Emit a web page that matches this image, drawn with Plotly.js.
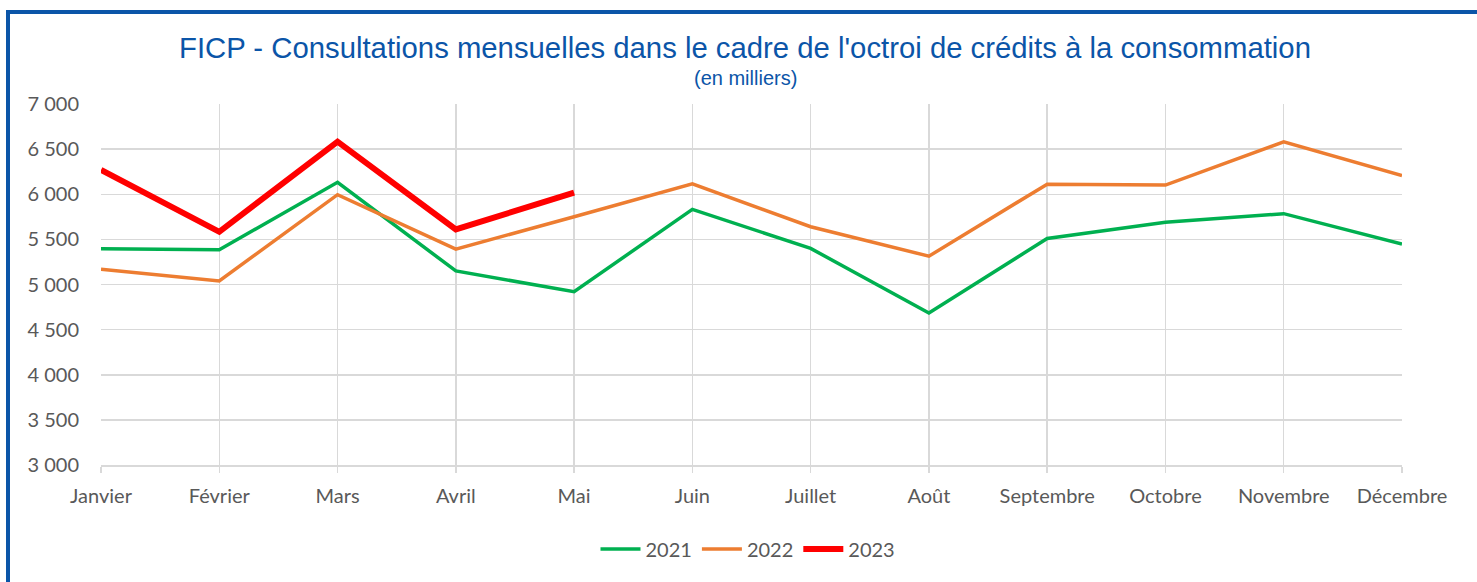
<!DOCTYPE html>
<html>
<head>
<meta charset="utf-8">
<script src="https://cdn.plot.ly/plotly-3.0.1.min.js"></script>
<style>
html,body{margin:0;padding:0;background:#fff;overflow:hidden;}
#wrap{position:relative;width:1477px;height:582px;}
#chart{position:absolute;left:0;top:0;width:1477px;height:582px;}
#frame{position:absolute;left:6px;top:10px;width:1480px;height:600px;border:4px solid #0B55A8;box-sizing:border-box;pointer-events:none;}
</style>
</head>
<body>
<div id="wrap"><div id="chart"></div><div id="frame"></div></div>
<script>
const months = ["Janvier","Février","Mars","Avril","Mai","Juin","Juillet","Août","Septembre","Octobre","Novembre","Décembre"];
const y2021 = [5395, 5385, 6133, 5150, 4920, 5833, 5400, 4685, 5510, 5690, 5785, 5448];
const y2022 = [5170, 5040, 5995, 5392, 5751, 6115, 5640, 5314, 6112, 6102, 6580, 6207];
const y2023 = [6270, 5584, 6583, 5610, 6018];
const yTicks = [3000, 3500, 4000, 4500, 5000, 5500, 6000, 6500, 7000];
const yTickText = ["3 000","3 500","4 000","4 500","5 000","5 500","6 000","6 500","7 000"];

const tickFont = {family: "Lato, 'Liberation Sans Narrow', 'Open Sans', sans-serif", size: 20, color: "#595959"};

const traces = [
  {x: months, y: y2021, name: "2021", type: "scatter", mode: "lines", line: {color: "#00B050", width: 3.5}},
  {x: months, y: y2022, name: "2022", type: "scatter", mode: "lines", line: {color: "#ED7D31", width: 3.5}},
  {x: months.slice(0, y2023.length), y: y2023, name: "2023", type: "scatter", mode: "lines", line: {color: "#FF0000", width: 6}}
];

const layout = {
  width: 1477, height: 582,
  paper_bgcolor: "#ffffff", plot_bgcolor: "#ffffff",
  margin: {l: 101, r: 75, t: 104, b: 117},
  title: {
    text: "FICP - Consultations mensuelles dans le cadre de l'octroi de crédits à la consommation",
    font: {family: "'Liberation Sans', Arial, sans-serif", size: 29.3, color: "#0B55A8"},
    x: 745/1477, xanchor: "center", xref: "container",
    y: 1 - 48/582, yanchor: "middle", yref: "container"
  },
  annotations: [{
    text: "(en milliers)", xref: "paper", yref: "paper",
    x: (745-101)/1301, y: (465-78)/361, xanchor: "center", yanchor: "middle",
    showarrow: false,
    font: {family: "'Liberation Sans', Arial, sans-serif", size: 20, color: "#0B55A8"}
  }],
  xaxis: {
    type: "category", range: [0, 11],
    showgrid: true, gridcolor: "#D9D9D9", gridwidth: 1.5,
    showline: true, linecolor: "#D9D9D9", linewidth: 2,
    ticks: "outside", ticklen: 6, tickcolor: "#D9D9D9", tickwidth: 1.5,
    tickfont: tickFont, ticklabelstandoff: 6,
    fixedrange: true, zeroline: false
  },
  yaxis: {
    range: [3000, 7000], tickvals: yTicks, ticktext: yTickText,
    showgrid: true, gridcolor: "#D9D9D9", gridwidth: 1.5,
    showline: false, ticks: "", tickfont: tickFont, ticklabelstandoff: 21,
    zeroline: false, fixedrange: true
  },
  showlegend: true,
  legend: {
    orientation: "h", x: (748-101)/1301, xanchor: "center", y: (465-549)/361, yanchor: "middle",
    font: tickFont, itemwidth: 40, traceorder: "normal"
  }
};

Plotly.newPlot("chart", traces, layout, {displayModeBar: false, staticPlot: true});
</script>
</body>
</html>
